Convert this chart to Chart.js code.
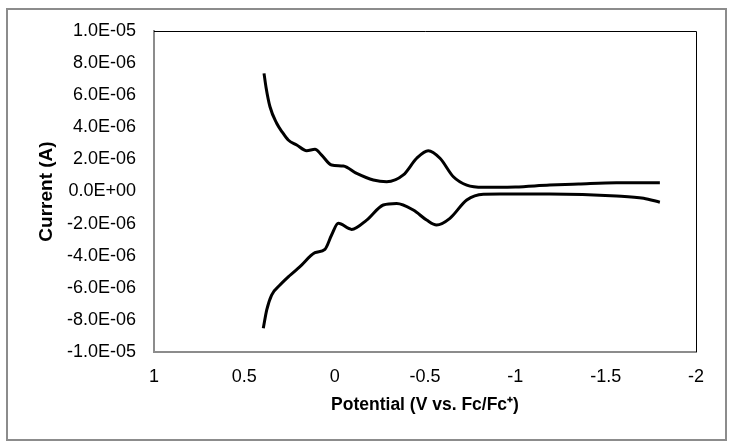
<!DOCTYPE html>
<html lang="en">
<head>
    <meta charset="UTF-8">
    <title>Cyclic Voltammogram</title>
    <script src="https://cdn.jsdelivr.net/npm/chart.js"></script>
    <style>
        body {
            margin: 0;
            background: #ffffff;
        }
        .chart-box {
            position: relative;
            width: 734px;
            height: 444px;
        }
    </style>
</head>
<body>
    <div class="chart-box">
        <canvas id="cvChart" width="734" height="444"></canvas>
    </div>
    <script>
        // Potential (V vs. Fc/Fc+) and current (A)
        const forwardPotential = [0.391, 0.38, 0.358, 0.321, 0.29, 0.257, 0.21, 0.155, 0.109, 0.072, 0.017, -0.048, -0.122, -0.214, -0.288, -0.38, -0.454, -0.518, -0.583, -0.657, -0.731, -0.823, -0.915, -1.0, -1.19, -1.35, -1.56, -1.8];
        const forwardCurrent = [7.36e-6, 6.5e-6, 5.28e-6, 4.25e-6, 3.7e-6, 3.21e-6, 2.9e-6, 2.54e-6, 2.63e-6, 2.27e-6, 1.65e-6, 1.59e-6, 1.13e-6, 0.72e-6, 0.61e-6, 1.03e-6, 2.07e-6, 2.54e-6, 2.07e-6, 0.92e-6, 0.4e-6, 0.26e-6, 0.26e-6, 0.28e-6, 0.4e-6, 0.47e-6, 0.55e-6, 0.55e-6];

        const reversePotential = [0.395, 0.376, 0.349, 0.303, 0.25, 0.192, 0.109, 0.054, 0.017, -0.02, -0.094, -0.177, -0.269, -0.343, -0.435, -0.509, -0.564, -0.638, -0.731, -0.823, -0.915, -1.19, -1.56, -1.71, -1.8];
        const reverseCurrent = [-8.52e-6, -7.38e-6, -6.45e-6, -5.83e-6, -5.25e-6, -4.68e-6, -3.81e-6, -3.6e-6, -2.71e-6, -1.98e-6, -2.36e-6, -1.78e-6, -0.84e-6, -0.74e-6, -1.15e-6, -1.78e-6, -2.09e-6, -1.67e-6, -0.53e-6, -0.17e-6, -0.16e-6, -0.16e-6, -0.28e-6, -0.42e-6, -0.67e-6];

        const xTicks = [1, 0.5, 0, -0.5, -1, -1.5, -2];
        const yTicks = [1e-5, 8e-6, 6e-6, 4e-6, 2e-6, 0, -2e-6, -4e-6, -6e-6, -8e-6, -1e-5];

        function toPoints(xs, ys) {
            return xs.map((x, i) => ({ x: x, y: ys[i] }));
        }

        // Excel-style "1.0E-05" labels
        function sciLabel(v) {
            if (Math.abs(v) < 1e-12) v = 0;
            const parts = Number(v).toExponential(1).split('e');
            const sign = parts[1][0];
            const digits = parts[1].slice(1).padStart(2, '0');
            return parts[0] + 'E' + sign + digits;
        }

        // outer frame and the black top/right edges of the plot area
        const framePlugin = {
            id: 'frame',
            beforeDraw(chart) {
                const ctx = chart.ctx;
                ctx.save();
                ctx.fillStyle = '#ffffff';
                ctx.fillRect(0, 0, chart.width, chart.height);
                ctx.strokeStyle = '#8c8c8c';
                ctx.lineWidth = 2;
                ctx.strokeRect(7, 9, 719, 431);
                ctx.restore();
            },
            afterDraw(chart) {
                const a = chart.chartArea;
                const ctx = chart.ctx;
                ctx.save();
                ctx.strokeStyle = '#000000';
                ctx.lineWidth = 1;
                ctx.beginPath();
                ctx.moveTo(a.left, a.top + 0.5);
                ctx.lineTo(a.right + 0.5, a.top + 0.5);
                ctx.lineTo(a.right + 0.5, a.bottom);
                ctx.stroke();
                ctx.restore();
            }
        };

        const lineStyle = {
            borderColor: '#000000',
            borderWidth: 3,
            pointRadius: 0,
            showLine: true,
            fill: false,
            cubicInterpolationMode: 'monotone'
        };

        const fontFamily = 'Liberation Sans, Arial, sans-serif';

        new Chart(document.getElementById('cvChart'), {
            type: 'scatter',
            data: {
                datasets: [
                    Object.assign({ label: 'Forward', data: toPoints(forwardPotential, forwardCurrent) }, lineStyle),
                    Object.assign({ label: 'Reverse', data: toPoints(reversePotential, reverseCurrent) }, lineStyle)
                ]
            },
            options: {
                responsive: false,
                animation: false,
                layout: { padding: { left: 6, top: 31, right: 38, bottom: 24 } },
                plugins: {
                    legend: { display: false },
                    tooltip: { enabled: false }
                },
                scales: {
                    x: {
                        type: 'linear',
                        reverse: true,
                        min: -2,
                        max: 1,
                        afterBuildTicks(scale) {
                            scale.ticks = xTicks.map(v => ({ value: v }));
                        },
                        afterFit(scale) { scale.height = 68; },
                        grid: { display: false, drawTicks: false },
                        border: { color: '#8c8c8c', width: 2 },
                        ticks: {
                            padding: 14,
                            color: '#000000',
                            font: { family: fontFamily, size: 18 },
                            callback: v => String(v)
                        },
                        title: {
                            display: true,
                            text: 'Potential (V vs. Fc/Fc\u207A)',
                            color: '#000000',
                            font: { family: fontFamily, size: 17.5, weight: 'bold' },
                            padding: { top: 4, bottom: 4 }
                        }
                    },
                    y: {
                        type: 'linear',
                        min: -1e-5,
                        max: 1e-5,
                        afterBuildTicks(scale) {
                            scale.ticks = yTicks.map(v => ({ value: v }));
                        },
                        ticks: {
                            padding: 18,
                            color: '#000000',
                            font: { family: fontFamily, size: 18 },
                            callback: v => sciLabel(v)
                        },
                        afterFit(scale) { scale.width = 148; },
                        grid: { display: false, drawTicks: false },
                        border: { color: '#8c8c8c', width: 2 },
                        title: {
                            display: true,
                            text: 'Current (A)',
                            color: '#000000',
                            font: { family: fontFamily, size: 19, weight: 'bold' },
                            padding: { top: 29 }
                        }
                    }
                }
            },
            plugins: [framePlugin]
        });
    </script>
</body>
</html>
